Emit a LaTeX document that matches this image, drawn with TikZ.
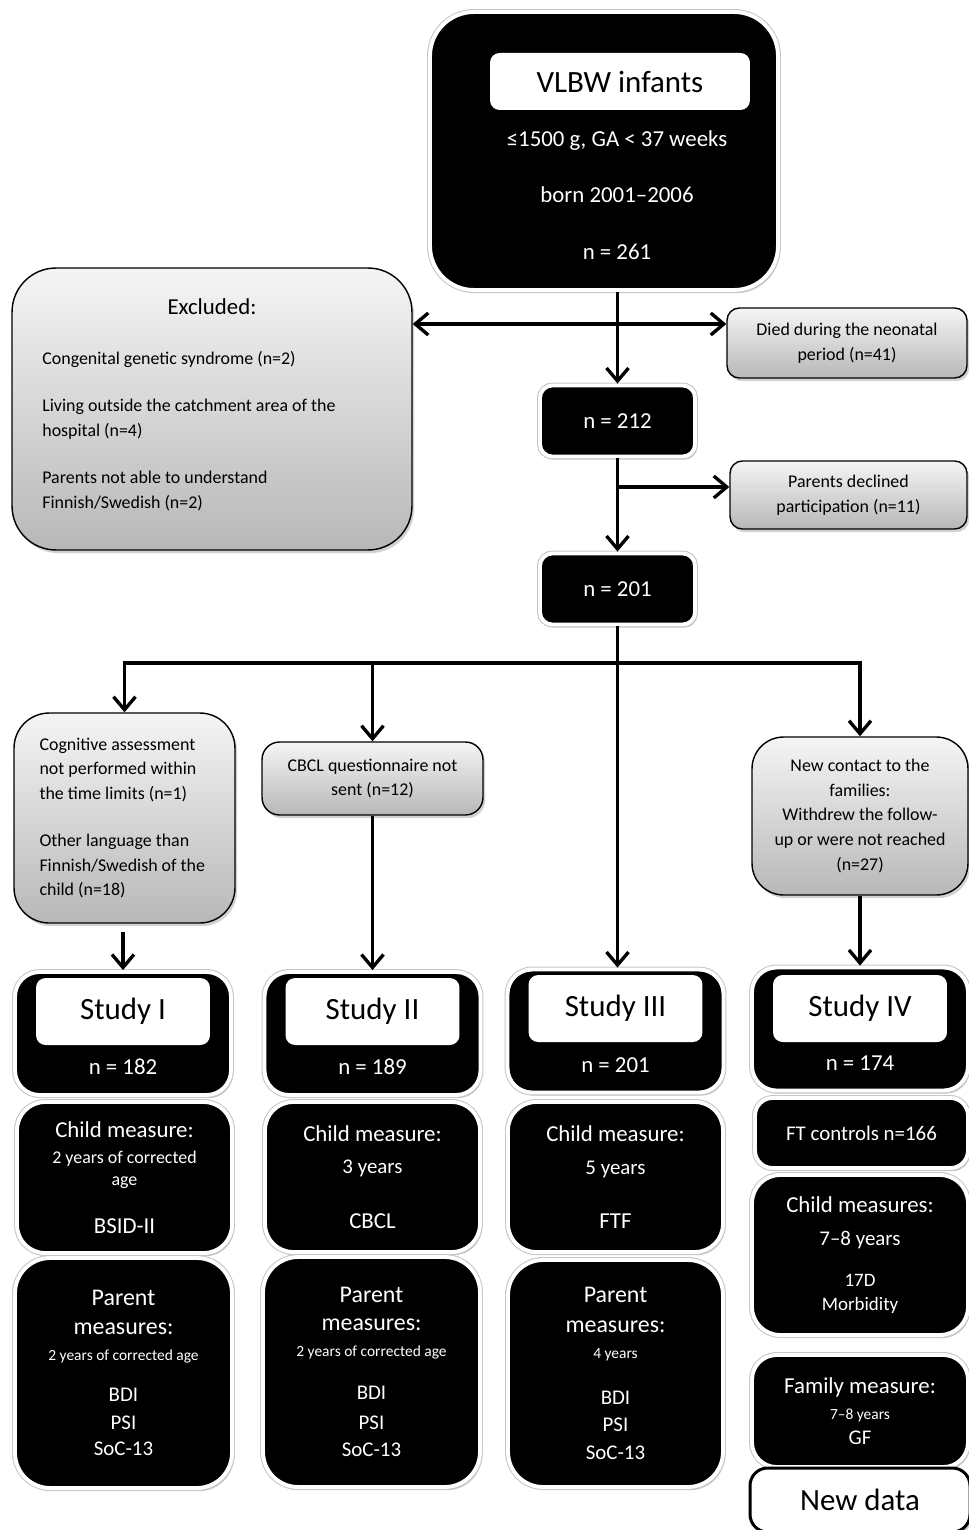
\documentclass[tikz,border=0pt]{standalone}
\usepackage{fontspec}
\setmainfont{Carlito}
\usetikzlibrary{positioning,arrows.meta,shadows}

\newcommand\szHuge{\fontsize{17.6pt}{21pt}\selectfont}
\newcommand\szBig{\fontsize{13.6pt}{16pt}\selectfont}
\newcommand\szMid{\fontsize{13pt}{15.5pt}\selectfont}
\newcommand\szMed{\fontsize{11.9pt}{14pt}\selectfont}
\newcommand\szSmB{\fontsize{10.8pt}{13pt}\selectfont}
\newcommand\szSm{\fontsize{10.2pt}{14pt}\selectfont}
\newcommand\szXs{\fontsize{8.8pt}{10.5pt}\selectfont}

\begin{document}
\begin{tikzpicture}[
  x=0.02cm, y=-0.02cm,
  blk/.style={fill=black, draw=white, line width=2.2pt, text=white, align=center,
              inner sep=0pt, rounded corners=14pt,
              drop shadow={shadow xshift=1.2pt, shadow yshift=-1.8pt, opacity=0.45},
              preaction={draw=black!22, line width=3.4pt}},
  meas/.style={blk, font={\fontsize{10.2pt}{12.5pt}\selectfont}},
  gry/.style={draw=black, line width=0.8pt, top color=black!4, bottom color=black!28,
              align=center, inner sep=0pt, rounded corners=8pt, font=\szSm,
              drop shadow={shadow xshift=1.2pt, shadow yshift=-1.8pt, opacity=0.35}},
  lbl/.style={fill=white, rounded corners=5.5pt, inner sep=0pt, font=\szHuge},
  arr/.style={line width=1.9pt, -{Straight Barb[length=2.6mm, width=4.4mm]}},
]
\fill[white] (0,0) rectangle (968,1530);
\useasboundingbox (0,0) rectangle (968,1530);

% cohort
\node[blk, minimum width=6.96cm, minimum height=5.56cm, rounded corners=25pt] (vlbw) at (604,151) {};
\node[lbl, minimum width=5.2cm, minimum height=1.14cm] (vlbwlbl) at (620,81.5) {VLBW infants};
\node[text=white, align=center, font={\fontsize{13pt}{32.3pt}\selectfont}] (vlbwtxt) at (617,195)
  {≤1500 g, GA < 37 weeks\\born 2001–2006\\n = 261};

\node[gry, minimum width=8cm, minimum height=5.64cm, rounded corners=25pt] (excl) at (212,409) {};
\node[font=\szMid] (excltitle) at (212,307) {Excluded:};
\node[anchor=west, align=left, inner sep=0pt, font={\fontsize{10.2pt}{14.2pt}\selectfont}] (excllist) at (42,431)
  {Congenital genetic syndrome (n=2)\\[12.5pt]
   Living outside the catchment area of the\\hospital (n=4)\\[12.5pt]
   Parents not able to understand\\Finnish/Swedish (n=2)};

\node[gry, minimum width=4.8cm, minimum height=1.4cm, rounded corners=7pt] (died) at (847,343)
  {Died during the neonatal\\period (n=41)};
\node[blk, minimum width=3.1cm, minimum height=1.42cm, rounded corners=7pt, font=\szMid] (nA) at (617.5,421) {n = 212};
\node[gry, minimum width=4.74cm, minimum height=1.36cm, rounded corners=7pt] (declined) at (848.5,495)
  {Parents declined\\participation (n=11)};
\node[blk, minimum width=3.1cm, minimum height=1.42cm, rounded corners=7pt, font=\szMid] (nB) at (617.5,589) {n = 201};

% losses per study
\node[gry, minimum width=4.42cm, minimum height=4.2cm, rounded corners=20pt, text width=3.4cm, align=flush left] (cogn) at (124.5,818)
  {Cognitive assessment\\not performed within\\the time limits (n=1)\\[12.8pt]
   Other language than\\Finnish/Swedish of the\\child (n=18)};
\node[gry, minimum width=4.42cm, minimum height=1.46cm, rounded corners=10pt] (cbcl) at (372.5,778.5)
  {CBCL questionnaire not\\sent (n=12)};
\node[gry, minimum width=4.32cm, minimum height=3.16cm, rounded corners=18pt] (newc) at (860,816)
  {New contact to the\\families:\\Withdrew the follow-\\up or were not reached\\(n=27)};

% studies
\foreach \i/\x/\y/\ly/\ny/\rn/\n in {1/123/1033.5/1011.5/1067/I/182, 2/372.5/1033.5/1011.5/1067/II/189,
                                      3/615.5/1031/1008.5/1065/III/201, 4/860/1029/1008.5/1063/IV/174} {
  \node[blk, minimum width=4.32cm, minimum height=2.46cm] (s\i) at (\x,\y) {};
  \node[lbl, minimum width=3.48cm, minimum height=1.34cm] (s\i lbl) at (\x,\ly) {Study \rn};
  \node[text=white, font=\szMid] (s\i n) at (\x,\ny) {n = \n};
}

\node[meas, minimum width=4.3cm, minimum height=3.02cm, rounded corners=16pt] (c1) at (124.5,1177.5)
  {{\szMid Child measure:}\\[2.8pt]{\szSm 2 years of corrected}\\{\szSm age}\\[14.7pt]{\szMid BSID-II}};
\node[meas, minimum width=4.3cm, minimum height=3.0cm, rounded corners=16pt] (c2) at (372.5,1177)
  {{\szMid Child measure:}\\[6.2pt]{\szMed 3 years}\\[18.7pt]{\szMid CBCL}};
\node[meas, minimum width=4.3cm, minimum height=3.0cm, rounded corners=16pt] (c3) at (615.5,1177)
  {{\szMid Child measure:}\\[6.2pt]{\szMed 5 years}\\[18.2pt]{\szMid FTF}};
\node[blk, minimum width=4.26cm, minimum height=1.4cm, rounded corners=10pt, font=\szMed] (ftc) at (861.5,1133)
  {FT controls n=166};
\node[meas, minimum width=4.32cm, minimum height=3.2cm, rounded corners=16pt] (c4) at (860,1255)
  {{\szMid Child measures:}\\[6.2pt]{\szMed 7–8 years}\\[10.8pt]{\szSmB 17D}\\[1.1pt]{\szSmB Morbidity}};

\node[meas, minimum width=4.34cm, minimum height=4.6cm, rounded corners=20pt] (p1) at (123.5,1373)
  {{\szBig Parent}\\[4pt]{\szBig measures:}\\[2.3pt]{\szXs 2 years of corrected age}\\[10.8pt]
   {\szMed BDI}\\[3.4pt]{\szMed PSI}\\[2.8pt]{\szMed SoC-13}};
\node[meas, minimum width=4.34cm, minimum height=4.6cm, rounded corners=20pt] (p2) at (371.5,1372)
  {{\szBig Parent}\\[3.4pt]{\szBig measures:}\\[2.3pt]{\szXs 2 years of corrected age}\\[11.9pt]
   {\szMed BDI}\\[4.5pt]{\szMed PSI}\\[2.8pt]{\szMed SoC-13}};
\node[meas, minimum width=4.3cm, minimum height=4.54cm, rounded corners=20pt] (p3) at (615.5,1373.5)
  {{\szBig Parent}\\[4.5pt]{\szBig measures:}\\[2.3pt]{\szXs 4 years}\\[13.6pt]
   {\szMed BDI}\\[2.8pt]{\szMed PSI}\\[3.4pt]{\szMed SoC-13}};
\node[meas, minimum width=4.32cm, minimum height=2.24cm, rounded corners=14pt] (fam) at (860,1411)
  {{\szMid Family measure:}\\[2.3pt]{\szXs 7–8 years}\\[1.7pt]{\szMed GF}};
\node[draw=black, line width=1.7pt, fill=white, rounded corners=10pt, font=\szHuge,
      minimum width=4.4cm, minimum height=1.28cm,
      drop shadow={shadow xshift=1.2pt, shadow yshift=-1.8pt, opacity=0.35}] (newd) at (860,1500) {New data};

% connectors
\coordinate (exc) at (617,324);
\coordinate (dec) at (617,487);
\coordinate (split) at (617,663);
\draw[arr] (vlbw.south -| nA.north) -- (nA.north);
\draw[arr] (exc) -- (exc -| excl.east);
\draw[arr] (exc) -- (exc -| died.west);
\draw[arr] (nA.south) -- (nB.north);
\draw[arr] (dec) -- (dec -| declined.west);
\draw[arr] (nB.south) -- (nB.south |- s3.north);
\foreach \b in {cogn,cbcl,newc}
  \draw[arr] (split) -| (\b.north);
\draw[arr, shorten <=5pt] (s1.north |- cogn.south) -- (s1.north);
\draw[arr] (cbcl.south) -- (s2.north);
\draw[arr] (newc.south) -- (s4.north);
\end{tikzpicture}
\end{document}
